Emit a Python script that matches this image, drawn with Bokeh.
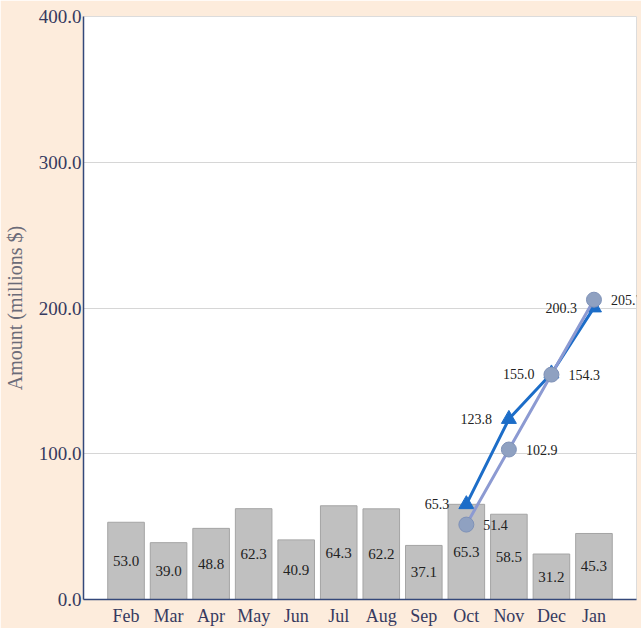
from bokeh.plotting import figure
from bokeh.models import Range1d, FixedTicker, NumeralTickFormatter, ColumnDataSource, LabelSet
from bokeh.embed import file_html
from bokeh.resources import INLINE

# ---- data ----
months = ["Feb", "Mar", "Apr", "May", "Jun", "Jul", "Aug", "Sep", "Oct", "Nov", "Dec", "Jan"]
bar_values = [53.0, 39.0, 48.8, 62.3, 40.9, 64.3, 62.2, 37.1, 65.3, 58.5, 31.2, 45.3]
line_months = ["Oct", "Nov", "Dec", "Jan"]
triangle_values = [65.3, 123.8, 155.0, 200.3]
circle_values = [51.4, 102.9, 154.3, 205.7]
y_ticks = [0, 100, 200, 300, 400]

SERIF = "Liberation Serif"
PEACH = "#fdecdc"

idx = list(range(len(months)))
pos = {m: i for i, m in enumerate(months)}
lx = [pos[m] for m in line_months]

p = figure(width=641, height=628, output_backend="svg", toolbar_location=None,
           x_range=Range1d(-1, 12.0), y_range=Range1d(0, 400),
           min_border_left=83, min_border_right=5, min_border_top=16, min_border_bottom=28)
p.border_fill_color = PEACH
p.background_fill_color = "white"
p.outline_line_color = "#dcdcdc"

# axes
p.xaxis.ticker = FixedTicker(ticks=idx)
p.xaxis.major_label_overrides = {i: m for i, m in zip(idx, months)}
p.yaxis.ticker = FixedTicker(ticks=y_ticks)
p.yaxis.formatter = NumeralTickFormatter(format="0.0")
for ax in (p.xaxis[0], p.yaxis[0]):
    ax.axis_line_color = "#34487a"
    ax.axis_line_width = 1.5
    ax.major_tick_line_color = None
    ax.minor_tick_line_color = None
    ax.major_tick_out = 0
    ax.major_tick_in = 0
    ax.minor_tick_out = 0
    ax.minor_tick_in = 0
    ax.major_label_text_font = SERIF
    ax.major_label_text_color = "#363a60"
p.xaxis.major_label_text_font_size = "18px"
p.xaxis.major_label_standoff = 6
p.yaxis.major_label_text_font_size = "19px"
p.yaxis.major_label_standoff = 2
p.yaxis.axis_label = "Amount (millions $)"
p.yaxis.axis_label_text_font = SERIF
p.yaxis.axis_label_text_font_size = "20px"
p.yaxis.axis_label_text_font_style = "normal"
p.yaxis.axis_label_text_color = "#6b6b78"
p.yaxis.axis_label_standoff = 10

p.xgrid.grid_line_color = None
p.ygrid.ticker = FixedTicker(ticks=y_ticks)
p.ygrid.grid_line_color = "#d6d6d6"
p.ygrid.grid_line_width = 1

# bars
bsrc = ColumnDataSource(dict(x=idx, top=bar_values,
                             mid=[v / 2 for v in bar_values],
                             lab=["%.1f" % v for v in bar_values]))
p.vbar(x="x", top="top", width=0.86, source=bsrc,
       fill_color="#c0c0c0", line_color="#a4a4a4", line_width=1)
p.add_layout(LabelSet(x="x", y="mid", text="lab", source=bsrc,
                      text_align="center", text_baseline="middle",
                      text_font=SERIF, text_font_size="15px", text_color="#222222"))

# triangle series
tsrc = ColumnDataSource(dict(x=lx, y=triangle_values, lab=["%.1f" % v for v in triangle_values]))
p.line("x", "y", source=tsrc, line_color="#1c6dc8", line_width=3)
p.scatter("x", "y", source=tsrc, marker="triangle", size=15,
          fill_color="#1c6dc8", line_color="#1c6dc8")
p.add_layout(LabelSet(x="x", y="y", text="lab", source=tsrc, x_offset=-17,
                      text_align="right", text_baseline="middle",
                      text_font=SERIF, text_font_size="14px", text_color="#222222"))

# circle series
csrc = ColumnDataSource(dict(x=lx, y=circle_values, lab=["%.1f" % v for v in circle_values]))
p.line("x", "y", source=csrc, line_color="#8c9ad2", line_width=3)
p.scatter("x", "y", source=csrc, marker="circle", size=15,
          fill_color="#8fa1c1", line_color="#7f92b8", line_width=1)
p.add_layout(LabelSet(x="x", y="y", text="lab", source=csrc, x_offset=17,
                      text_align="left", text_baseline="middle",
                      text_font=SERIF, text_font_size="14px", text_color="#222222"))

html = file_html(p, INLINE)
html = html.replace("<body>", '<body style="background-color:%s;">' % PEACH, 1)
open("out.html", "w").write(html)
